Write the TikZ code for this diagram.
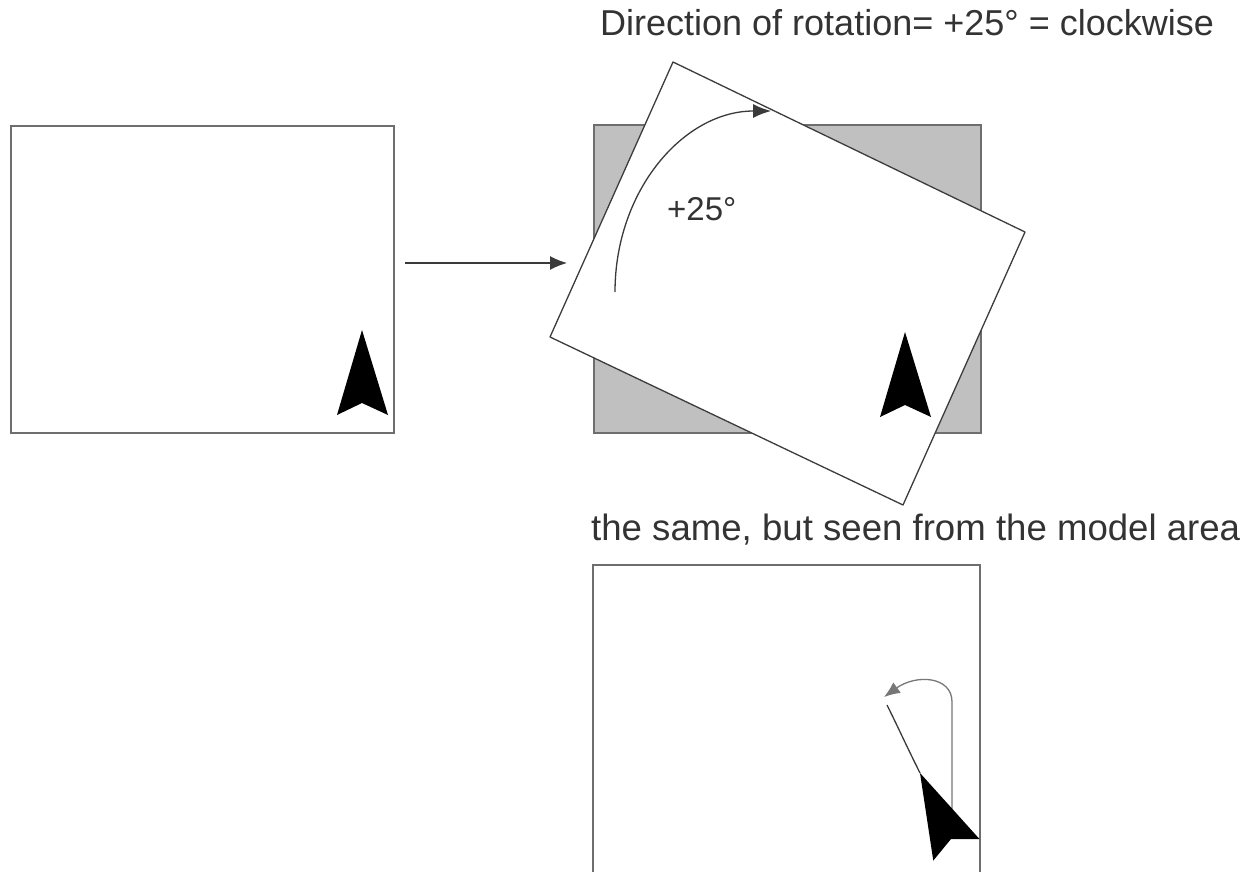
\documentclass[tikz,border=0pt]{standalone}
\usepackage{fontspec}
\setmainfont{Liberation Sans}
\usetikzlibrary{arrows.meta}
\definecolor{framegray}{HTML}{6E6E6E}
\definecolor{fillgray}{HTML}{C0C0C0}
\definecolor{linegray}{HTML}{3A3A3A}
\definecolor{lightline}{HTML}{777777}
\definecolor{textgray}{HTML}{333333}
\definecolor{edgegray}{HTML}{3C3C3C}
\tikzset{
  arrowmark/.pic={\fill[black] (0,0) -- (26,85) -- (0,73) -- (-25,85) -- cycle;}
}
\begin{document}
\begin{tikzpicture}[x=1pt,y=-1pt,
  frame/.style={draw=framegray, line width=1.8pt},
  box/.style={frame, rectangle, inner sep=0pt, anchor=north west},
  thinline/.style={draw=linegray, line width=1.3pt},
  lbl/.style={text=textgray, inner sep=0pt, anchor=base west, font=\fontsize{36}{40}\selectfont}
]
\useasboundingbox (0,0) rectangle (1249,872);

% left rectangle
\node[box, minimum width=383pt, minimum height=307pt] (L) at (10,125) {};
\pic at (362,330) {arrowmark};

% gray rectangle and rotated sheet
\node[box, fill=fillgray, minimum width=387pt, minimum height=308pt] (G) at (593,124) {};
\coordinate (r1) at (673,62);
\coordinate (r2) at (1025,232);
\coordinate (r3) at (903,505);
\coordinate (r4) at (550,337);
\filldraw[fill=white, draw=edgegray, line width=1.3pt, line join=round] (r1) -- (r2) -- (r3) -- (r4) -- cycle;
\pic at (905,332) {arrowmark};

% connector between the two
\coordinate (a1) at (405,263);
\coordinate (a2) at (567,263);
\draw[thinline, -{Latex[length=17pt,width=14pt]}] (a1) -- (a2);

% rotation arc
\coordinate (c1) at (615,292);
\coordinate (c2) at (771,111);
\draw[thinline, -{Latex[length=18pt,width=14pt]}] (c1) .. controls (615,190) and (684,111) .. (c2);
\node[lbl, font=\fontsize{33}{38}\selectfont] (deg) at (667,220) {+25°};

% texts
\node[lbl] (title) at (600,36) {Direction of rotation= +25° = clockwise};
\node[lbl, font=\fontsize{36.6}{40}\selectfont] (sub) at (591,540) {the same, but seen from the model area};

% bottom rectangle
\draw[frame] (593,872) -- (593,565) -- (980,565) -- (980,872);
\coordinate (b1) at (952,812);
\coordinate (b2) at (884,697);
\coordinate (b3) at (887,705);
\coordinate (b4) at (920,773);
\draw[draw=lightline, line width=1.3pt, -{Latex[length=16pt,width=13pt,fill=lightline]}] (b1) -- (952,702) .. controls (952,676) and (916,674) .. (b2);
\draw[thinline] (b3) .. controls (897,725) and (906,745) .. (b4);
\pic[rotate=25] at (920,773) {arrowmark};
\end{tikzpicture}
\end{document}
